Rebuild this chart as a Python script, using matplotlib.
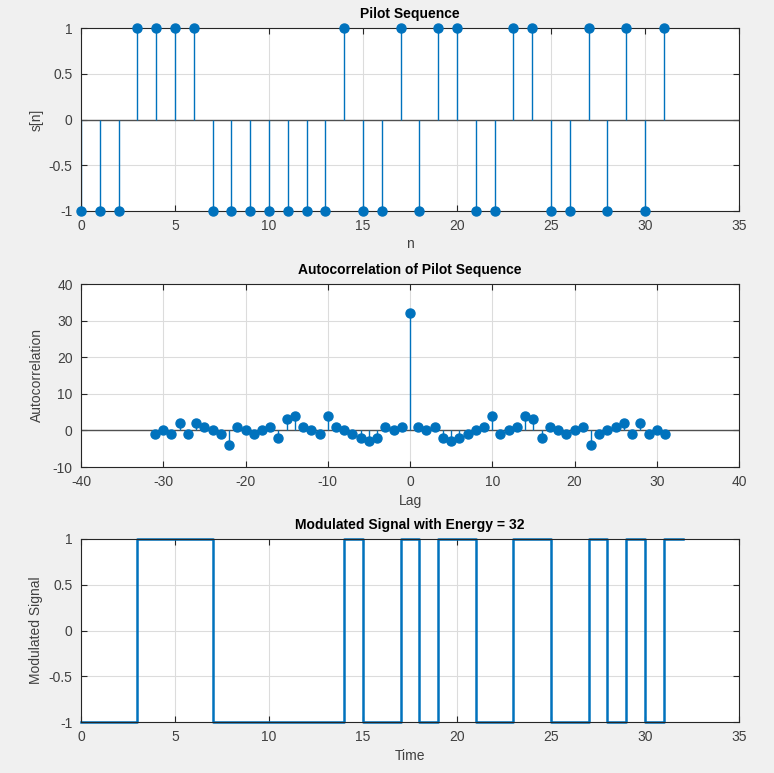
import numpy as np
import matplotlib
matplotlib.use("Agg")
import matplotlib.pyplot as plt

## data
pilot = [-1, -1, -1, 1, 1, 1, 1, -1, -1, -1, -1, -1, -1, -1, 1, -1,
         -1, 1, -1, 1, 1, -1, -1, 1, 1, -1, -1, 1, -1, 1, -1, 1]
n_idx = list(range(32))

lags = list(range(-31, 32))
acorr = [-1, 0, -1, 2, -1, 2, 1, 0, -1, -4, 1, 0, -1, 0, 1, -2,
         3, 4, 1, 0, -1, 4, 1, 0, -1, -2, -3, -2, 1, 0, 1,
         32,
         1, 0, 1, -2, -3, -2, -1, 0, 1, 4, -1, 0, 1, 4, 3, -2,
         1, 0, -1, 0, 1, -4, -1, 0, 1, 2, -1, 2, -1, 0, -1]

energy = 32

## style (matlab-ish)
blue = "#0072BD"
bg = "#f0f0f0"
plt.rcParams["font.family"] = ["Liberation Sans", "DejaVu Sans"]
plt.rcParams["font.size"] = 10
plt.rcParams["axes.unicode_minus"] = False

fig = plt.figure(figsize=(7.74, 7.73), dpi=100, facecolor=bg)
L, W, H = 81 / 774, 658 / 774, 183 / 773
ax1 = fig.add_axes([L, 1 - 211 / 773, W, H])
ax2 = fig.add_axes([L, 1 - 467 / 773, W, H])
ax3 = fig.add_axes([L, 1 - 722 / 773, W, H])


def style(ax):
    ax.grid(True, color="#dcdcdc", linewidth=0.8)
    ax.set_axisbelow(True)
    for s in ax.spines.values():
        s.set_color("#262626")
        s.set_linewidth(0.8)
    ax.tick_params(direction="in", length=4, colors="#262626", labelcolor="#404040",
                   top=True, right=True, labelsize=10, pad=6)


## pilot stem
m, st, bl = ax1.stem(n_idx, pilot, basefmt=" ")
plt.setp(m, color=blue, markersize=6.5, clip_on=False, zorder=4)
plt.setp(st, color=blue, linewidth=1)
ax1.axhline(0, color="#505050", linewidth=1, zorder=1)
ax1.set_xlim(0, 35)
ax1.set_ylim(-1, 1)
ax1.set_yticks([-1, -0.5, 0, 0.5, 1])
ax1.set_yticklabels(["-1", "-0.5", "0", "0.5", "1"])
ax1.set_title("Pilot Sequence", fontweight="bold", fontsize=10, pad=7)
ax1.set_xlabel("n", color="#404040", labelpad=3)
ax1.set_ylabel("s[n]", color="#404040")
style(ax1)

## autocorrelation stem
m, st, bl = ax2.stem(lags, acorr, basefmt=" ")
plt.setp(m, color=blue, markersize=6.5, clip_on=False, zorder=4)
plt.setp(st, color=blue, linewidth=1)
ax2.axhline(0, color="#505050", linewidth=1, zorder=1)
ax2.set_xlim(-40, 40)
ax2.set_ylim(-10, 40)
ax2.set_xticks([-40, -30, -20, -10, 0, 10, 20, 30, 40])
ax2.set_title("Autocorrelation of Pilot Sequence", fontweight="bold", fontsize=10, pad=7)
ax2.set_xlabel("Lag", color="#404040", labelpad=3)
ax2.set_ylabel("Autocorrelation", color="#404040", labelpad=6)
style(ax2)

## modulated signal
t = n_idx + [len(pilot)]
ax3.step(t, pilot + [pilot[-1]], where="post", color=blue, linewidth=1.8, clip_on=False)
ax3.set_xlim(0, 35)
ax3.set_ylim(-1, 1)
ax3.set_yticks([-1, -0.5, 0, 0.5, 1])
ax3.set_yticklabels(["-1", "-0.5", "0", "0.5", "1"])
ax3.set_title("Modulated Signal with Energy = %d" % energy, fontweight="bold", fontsize=10, pad=7)
ax3.set_xlabel("Time", color="#404040", labelpad=3)
ax3.set_ylabel("Modulated Signal", color="#404040")
style(ax3)

fig.savefig("out.png", dpi=100, facecolor=bg)
